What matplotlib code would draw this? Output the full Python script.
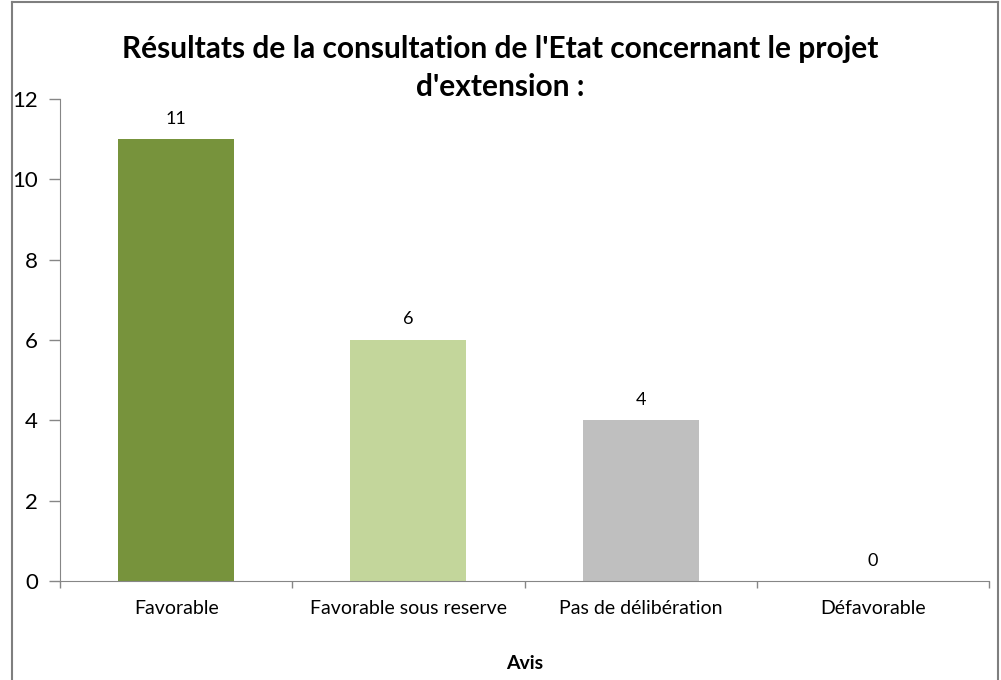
import numpy as np
import matplotlib.pyplot as plt
from matplotlib.lines import Line2D

categories = ['Favorable', 'Favorable sous reserve', 'Pas de délibération', 'Défavorable']
values = [11, 6, 4, 0]
colors = ['#77933C', '#C3D69B', '#BFBFBF', '#BFBFBF']

plt.rcParams['font.family'] = ['Lato', 'DejaVu Sans']

fig = plt.figure(figsize=(10.01, 6.8), dpi=100)
ax = fig.add_axes([60 / 1001, 1 - 581 / 680, (989 - 60) / 1001, (581 - 99) / 680])

x = np.arange(len(categories))
bars = ax.bar(x, values, width=0.5, color=colors)
for xi, v in zip(x, values):
    ax.annotate(str(v), (xi, v), xytext=(0, 9), textcoords='offset points',
                ha='center', va='bottom', fontsize=13)

ax.set_xlim(-0.5, len(categories) - 0.5)
ax.set_ylim(0, 12)
ax.set_yticks(range(0, 13, 2))
ax.set_xticks(x)
ax.set_xticklabels(categories, fontsize=14)
ax.set_xticks(np.arange(-0.5, len(categories)), minor=True)
ax.tick_params(axis='x', which='major', length=0, pad=14)
ax.tick_params(axis='x', which='minor', length=5, color='#868686', width=1)
ax.tick_params(axis='y', length=8, color='#868686', width=1, labelsize=16, pad=8)
for s in ['top', 'right']:
    ax.spines[s].set_visible(False)
for s in ['left', 'bottom']:
    ax.spines[s].set_color('#868686')

ax.set_xlabel('Avis', fontsize=14, fontweight='bold', labelpad=27)
fig.text(0.5, 1 - 35 / 680, "Résultats de la consultation de l'Etat concernant le projet\nd'extension :",
         ha='center', va='top', fontsize=21.5, fontweight='bold', linespacing=1.42)

# cadre
bx0, bx1, by1 = 12 / 1001, 998 / 1001, 1 - 1.5 / 680
for xs, ys in [([bx0, bx0], [0, by1]), ([bx0, bx1], [by1, by1]), ([bx1, bx1], [by1, 0])]:
    fig.add_artist(Line2D(xs, ys, color='#7F7F7F', lw=1.5, transform=fig.transFigure))

fig.savefig('out.png', dpi=100)
